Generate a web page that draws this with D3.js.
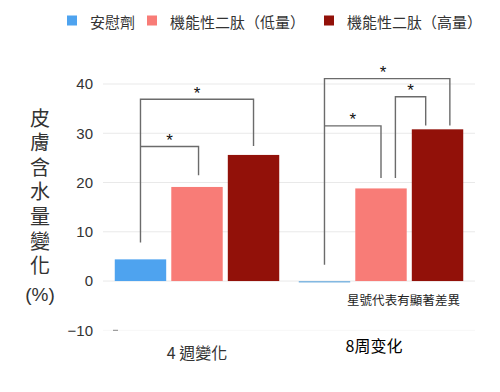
<!DOCTYPE html>
<html><head><meta charset="utf-8">
<script src="https://cdn.jsdelivr.net/npm/d3@7"></script>
<style>
body{margin:0;background:#fff;}
svg{display:block;}
text{font-family:"Liberation Sans",Arial,"Noto Sans CJK TC",sans-serif;}
.cjk{font-family:"Noto Sans CJK TC","Noto Sans CJK SC",sans-serif;}
.sc{font-family:"Noto Sans CJK SC","Noto Sans CJK TC",sans-serif;}
</style></head>
<body>
<script>
// ---- data ----
const groups = ["4 週變化", "8周变化"];
const seriesNames = ["安慰劑", "機能性二肽（低量）", "機能性二肽（高量）"];
const placebo = [4.4, -0.3];
const lowDose = [19.1, 18.8];
const highDose = [25.6, 30.8];
const yTicks = [-10, 0, 10, 20, 30, 40];
const yTitle = "皮膚含水量變化";
const yUnit = "(%)";
const note = "星號代表有顯著差異";
// significance brackets: group, from bar (+pos in bar), to bar (+pos), top value, leg bottoms
const brGroup = [0, 0, 1, 1, 1];
const brFrom = [[0, 0.5], [0, 0.5], [0, 0.5], [1, 0.78], [0, 0.5]];
const brTo = [[2, 0.5], [1, 0.53], [2, 0.74], [2, 0.27], [1, 0.5]];
const brTop = [36.9, 27.3, 41.1, 37.4, 31.5];
const brLeftBottom = [7.8, null, 3.3, 20.9, null];
const brRightBottom = [27.4, 21.5, 31.6, 31.6, 20.9];
const brStarShift = [0, 0, -4, 0, 0];

const colors = ["#4ea3ef", "#f87c77", "#921109"];
const W = 500, H = 392;

const svg = d3.select("body").append("svg").attr("width", W).attr("height", H);

const y = d3.scaleLinear().domain([-10, 40]).range([330.3, 84]);
const x0 = d3.scaleBand().domain(d3.range(groups.length)).range([105, 473]).paddingInner(0.1).paddingOuter(0.05);
const x1 = d3.scaleBand().domain([0, 1, 2]).range([0, x0.bandwidth()]).paddingInner(0.09).paddingOuter(0.01);

// gridlines
svg.append("g").selectAll("line").data(yTicks).join("line")
  .attr("x1", 103).attr("x2", 475)
  .attr("y1", d => y(d)).attr("y2", d => y(d))
  .attr("stroke", d => d === -10 ? "#f7f7f7" : "#e9e9e9").attr("stroke-width", 1);
// small artifact dash at -10
svg.append("line").attr("x1", 113).attr("x2", 118).attr("y1", y(-10)).attr("y2", y(-10))
  .attr("stroke", "#888").attr("stroke-width", 1);

// y axis labels via d3 axis
const yAxis = d3.axisLeft(y).tickValues(yTicks).tickSize(0).tickPadding(0).tickFormat(d3.format("d"));
const ya = svg.append("g").attr("transform", "translate(93,0)").call(yAxis);
ya.select(".domain").remove();
ya.selectAll("text").attr("font-size", 15).attr("fill", "#333")
  .attr("font-family", "'Liberation Sans',Arial,sans-serif");

// y title (vertical, upright characters)
svg.append("text").attr("class", "cjk")
  .attr("x", 40).attr("y", 108)
  .style("writing-mode", "vertical-rl").style("text-orientation", "upright")
  .style("letter-spacing", "4.6px")
  .attr("font-size", 20).attr("fill", "#333")
  .text(yTitle);
svg.append("text").attr("x", 40).attr("y", 294)
  .attr("text-anchor", "middle").attr("dominant-baseline", "central")
  .attr("font-size", 19).attr("fill", "#333").text(yUnit);

// bars
const series = [placebo, lowDose, highDose];
const barData = [];
groups.forEach((g, gi) => series.forEach((s, si) => barData.push({gi, si, v: s[gi]})));
svg.append("g").selectAll("rect").data(barData).join("rect")
  .attr("x", d => x0(d.gi) + x1(d.si))
  .attr("width", x1.bandwidth())
  .attr("y", d => y(Math.max(0, d.v)))
  .attr("height", d => Math.abs(y(d.v) - y(0)))
  .attr("fill", d => d.si === 0 && d.v < 0 ? "#7fb6e0" : colors[d.si]);

// brackets
const bx = (gi, b) => x0(gi) + x1(b[0]) + x1.bandwidth() * b[1];
const bg = svg.append("g").attr("fill", "none").attr("stroke", "#6b6b6b").attr("stroke-width", 1.4);
brGroup.forEach((gi, i) => {
  const xa = bx(gi, brFrom[i]), xb = bx(gi, brTo[i]);
  const top = y(brTop[i]);
  const lb = brLeftBottom[i] === null ? top : y(brLeftBottom[i]);
  bg.append("path").attr("d", `M${xa},${lb}L${xa},${top}L${xb},${top}L${xb},${y(brRightBottom[i])}`);
  svg.append("text").attr("x", (xa + xb) / 2 + brStarShift[i]).attr("y", top - 0.5)
    .attr("text-anchor", "middle").attr("font-size", 17).attr("fill", "#111")
    .attr("font-family", "'DejaVu Sans',sans-serif")
    .text("*");
});

// x labels
svg.append("text").attr("class", "cjk").attr("x", x0(0) + x0.bandwidth() / 2).attr("y", 352)
  .attr("text-anchor", "middle").attr("dominant-baseline", "central")
  .attr("font-size", 16).attr("fill", "#333").text(groups[0]);
svg.append("text").attr("class", "sc").attr("x", x0(1) + x0.bandwidth() / 2 - 7).attr("y", 345)
  .attr("text-anchor", "middle").attr("dominant-baseline", "central")
  .attr("font-size", 16).attr("fill", "#000").text(groups[1]);

// note
svg.append("text").attr("class", "cjk").attr("x", 347).attr("y", 299)
  .attr("dominant-baseline", "central").attr("font-size", 12.5).attr("fill", "#222")
  .attr("textLength", 113).text(note);

// legend
const legX = [67, 147, 324];
const lg = svg.append("g").selectAll("g").data(seriesNames).join("g")
  .attr("transform", (d, i) => `translate(${legX[i]},0)`);
lg.append("rect").attr("x", 0).attr("y", 15.5).attr("width", 10).attr("height", 10)
  .attr("fill", (d, i) => colors[i]);
lg.append("text").attr("class", "cjk").attr("x", 23).attr("y", 21)
  .attr("dominant-baseline", "central").attr("font-size", 15).attr("fill", "#333")
  .text(d => d);
</script>
</body></html>
